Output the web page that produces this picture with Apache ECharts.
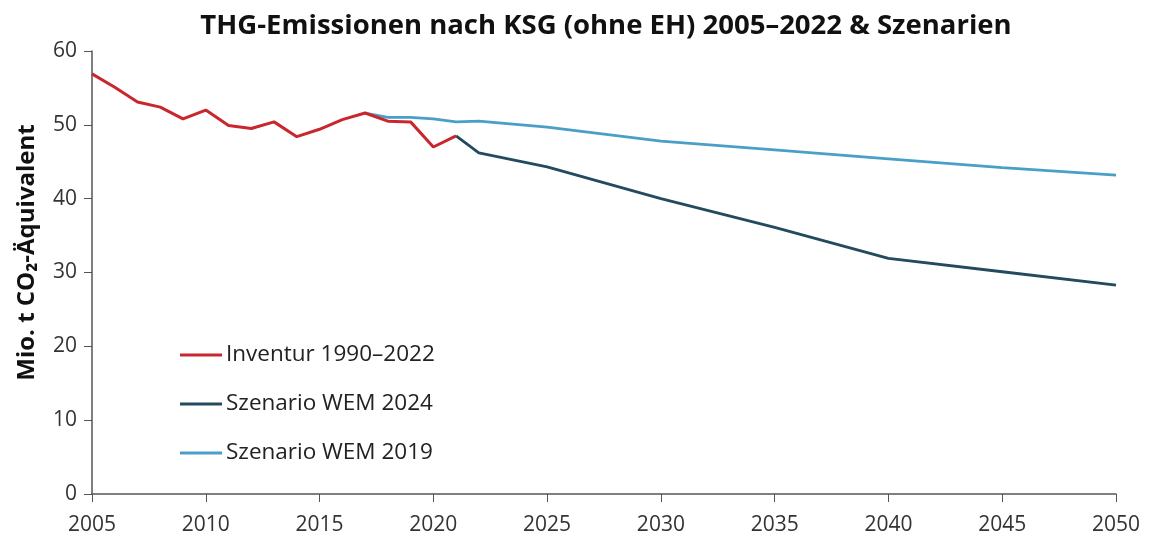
<!DOCTYPE html>
<html>
<head>
<meta charset="utf-8">
<script src="https://cdn.jsdelivr.net/npm/echarts@6/dist/echarts.min.js"></script>
<style>
  html, body { margin: 0; padding: 0; background: #fff; }
  #chart { width: 1149px; height: 538px; }
</style>
</head>
<body>
<div id="chart"></div>
<script>
// Inventur 1990–2022 (nur 2005–2021 sichtbar)
var invYears = [2005, 2006, 2007, 2008, 2009, 2010, 2011, 2012, 2013, 2014, 2015, 2016, 2017, 2018, 2019, 2020, 2021];
var invValues = [56.9, 55.1, 53.1, 52.4, 50.8, 52.0, 49.9, 49.5, 50.4, 48.4, 49.4, 50.7, 51.6, 50.5, 50.4, 47.0, 48.5];

// Szenario WEM 2024
var wem24Years = [2021, 2022, 2025, 2030, 2035, 2040, 2045, 2050];
var wem24Values = [48.5, 46.2, 44.3, 40.0, 36.1, 31.9, 30.1, 28.3];

// Szenario WEM 2019
var wem19Years = [2017, 2018, 2019, 2020, 2021, 2022, 2025, 2030, 2035, 2040, 2045, 2050];
var wem19Values = [51.6, 51.0, 51.0, 50.8, 50.4, 50.5, 49.7, 47.8, 46.6, 45.4, 44.2, 43.2];

var yTicks = [0, 10, 20, 30, 40, 50, 60];

function pairs(xs, ys) {
  return xs.map(function (x, i) { return [x, ys[i]]; });
}

var chart = echarts.init(document.getElementById('chart'));
var font = '"Open Sans", "Noto Sans", sans-serif';

chart.setOption({
  animation: false,
  textStyle: { fontFamily: font },
  title: {
    text: 'THG-Emissionen nach KSG (ohne EH) 2005–2022 & Szenarien',
    left: 601,
    textAlign: 'center',
    top: 7,
    textStyle: { fontFamily: font, fontSize: 27.5, fontWeight: 'bold', color: '#111' }
  },
  legend: {
    orient: 'vertical',
    left: 180,
    top: 340,
    padding: 0,
    itemGap: 19,
    icon: 'rect',
    itemWidth: 42,
    itemHeight: 3,
    textStyle: { fontFamily: font, fontSize: 22.5, color: '#222', lineHeight: 30, padding: [0, 0, 0, -1] },
    data: ['Inventur 1990–2022', 'Szenario WEM 2024', 'Szenario WEM 2019']
  },
  grid: { left: 92, right: 33, top: 51, bottom: 44 },
  xAxis: {
    type: 'value',
    min: 2005,
    max: 2050,
    interval: 5,
    axisLine: { lineStyle: { color: '#555', width: 1.5 } },
    axisTick: { length: 8, lineStyle: { color: '#555' } },
    axisLabel: { fontSize: 21, color: '#333', margin: 21, formatter: function (v) { return String(v); } },
    splitLine: { show: false }
  },
  yAxis: {
    type: 'value',
    min: yTicks[0],
    max: yTicks[yTicks.length - 1],
    interval: 10,
    name: 'Mio. t CO₂-Äquivalent',
    nameLocation: 'middle',
    nameGap: 53,
    nameTextStyle: { fontFamily: font, fontSize: 24, fontWeight: 'bold', color: '#111', padding: [0, 0, 0, 40] },
    axisLine: { show: true, lineStyle: { color: '#555', width: 1.5 } },
    axisTick: { show: true, length: 8, lineStyle: { color: '#555' } },
    axisLabel: { fontSize: 21, color: '#333', margin: 15 },
    splitLine: { show: false }
  },
  series: [
    {
      name: 'Inventur 1990–2022',
      type: 'line',
      symbol: 'none',
      z: 3,
      lineStyle: { color: '#c9272d', width: 3 },
      itemStyle: { color: '#c9272d' },
      data: pairs(invYears, invValues)
    },
    {
      name: 'Szenario WEM 2024',
      type: 'line',
      symbol: 'none',
      z: 2,
      lineStyle: { color: '#244a5f', width: 2.8 },
      itemStyle: { color: '#244a5f' },
      data: pairs(wem24Years, wem24Values)
    },
    {
      name: 'Szenario WEM 2019',
      type: 'line',
      symbol: 'none',
      z: 1,
      lineStyle: { color: '#4a9fc9', width: 2.8 },
      itemStyle: { color: '#4a9fc9' },
      data: pairs(wem19Years, wem19Values)
    }
  ]
});
</script>
</body>
</html>
